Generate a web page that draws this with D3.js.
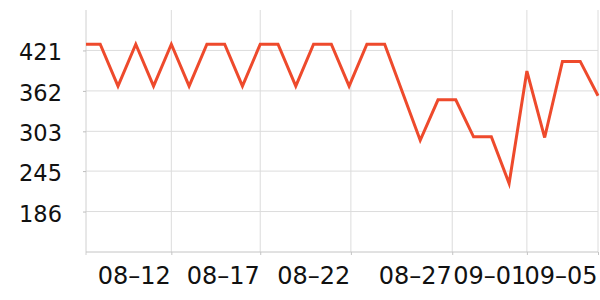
<!DOCTYPE html>
<html>
<head>
<meta charset="utf-8">
<script src="https://cdn.jsdelivr.net/npm/d3@7"></script>
<style>
  html, body { margin: 0; padding: 0; background: #fff; }
  svg { display: block; }
  text { font-family: "DejaVu Sans", sans-serif; fill: #111; }
</style>
</head>
<body>
<svg id="chart" width="600" height="300"></svg>
<script>
// ---- data ----
const dates = ["08-07","08-08","08-09","08-10","08-11","08-12","08-13","08-14","08-15","08-16",
               "08-17","08-18","08-19","08-20","08-21","08-22","08-23","08-24","08-25","08-26",
               "08-27","08-28","08-29","08-30","08-31","09-01","09-02","09-03","09-04","09-05"];
const values = [430, 430, 369, 430, 369, 430, 369, 430, 430, 369,
                430, 430, 369, 430, 430, 369, 430, 430, 360, 290,
                349, 349, 295, 295, 227, 391, 294, 405, 405, 355];
const xTickLabels = ["08–12", "08–17", "08–22", "08–27", "09–01", "09–05"];
const xTickAt = [5, 10, 15.1, 20.8, 25, 29];   // position on the category index axis
const yTicks = [186, 245, 303, 362, 421];
const yDomain = [127, 480];
const xDomain = [0.2, 29];

// ---- layout ----
const W = 600, H = 300;
const m = { left: 86, right: 2, top: 10, bottom: 48 };
const svg = d3.select("#chart");

const x = d3.scaleLinear().domain(xDomain).range([m.left, W - m.right]);
const y = d3.scaleLinear().domain(yDomain).range([H - m.bottom, m.top]);

// horizontal grid
svg.append("g")
  .selectAll("line").data(yTicks).join("line")
  .attr("x1", m.left).attr("x2", W - m.right)
  .attr("y1", d => y(d)).attr("y2", d => y(d))
  .attr("stroke", "#dcdcdc").attr("stroke-width", 1);

// vertical grid
svg.append("g")
  .selectAll("line").data(xTickAt).join("line")
  .attr("x1", d => x(d)).attr("x2", d => x(d))
  .attr("y1", m.top).attr("y2", H - m.bottom)
  .attr("stroke", "#dcdcdc").attr("stroke-width", 1);

// y axis
const yAxis = svg.append("g")
  .attr("transform", `translate(${m.left},0)`)
  .call(d3.axisLeft(y).tickValues(yTicks).tickSize(3).tickPadding(21).tickFormat(d3.format("d")));
yAxis.select(".domain").attr("stroke", "#d0d0d0").attr("d", `M0,${m.top}V${H - m.bottom + 3}`);
yAxis.selectAll(".tick line").attr("stroke", "#bdbdbd");
yAxis.selectAll(".tick text")
  .style("font-family", "DejaVu Sans").style("font-size", "22.5px").attr("fill", "#111")
  .attr("dy", "0.42em");

// x axis
const xAxis = svg.append("g")
  .attr("transform", `translate(0,${H - m.bottom})`)
  .call(d3.axisBottom(x).tickValues(xTickAt).tickSize(3).tickPadding(8)
        .tickFormat((d, i) => xTickLabels[i]));
xAxis.select(".domain").attr("stroke", "#c4c4c4").attr("d", `M${m.left},0H${W - m.right}`);
xAxis.selectAll(".tick line").attr("stroke", "#c4c4c4");
xAxis.selectAll(".tick text")
  .style("font-family", "DejaVu Sans").style("font-size", "24px").attr("fill", "#111")
  .attr("text-anchor", "end").attr("dx", "-1").attr("dy", "0.88em");

// clip
svg.append("defs").append("clipPath").attr("id", "plot")
  .append("rect").attr("x", m.left).attr("y", 0)
  .attr("width", W - m.right - m.left + 2).attr("height", H - m.bottom);

// line
const line = d3.line().x((d, i) => x(i)).y(d => y(d));
svg.append("path")
  .datum(values)
  .attr("clip-path", "url(#plot)")
  .attr("fill", "none")
  .attr("stroke", "#ee4a2c")
  .attr("stroke-width", 3)
  .attr("stroke-linejoin", "miter")
  .attr("d", line);
</script>
</body>
</html>
